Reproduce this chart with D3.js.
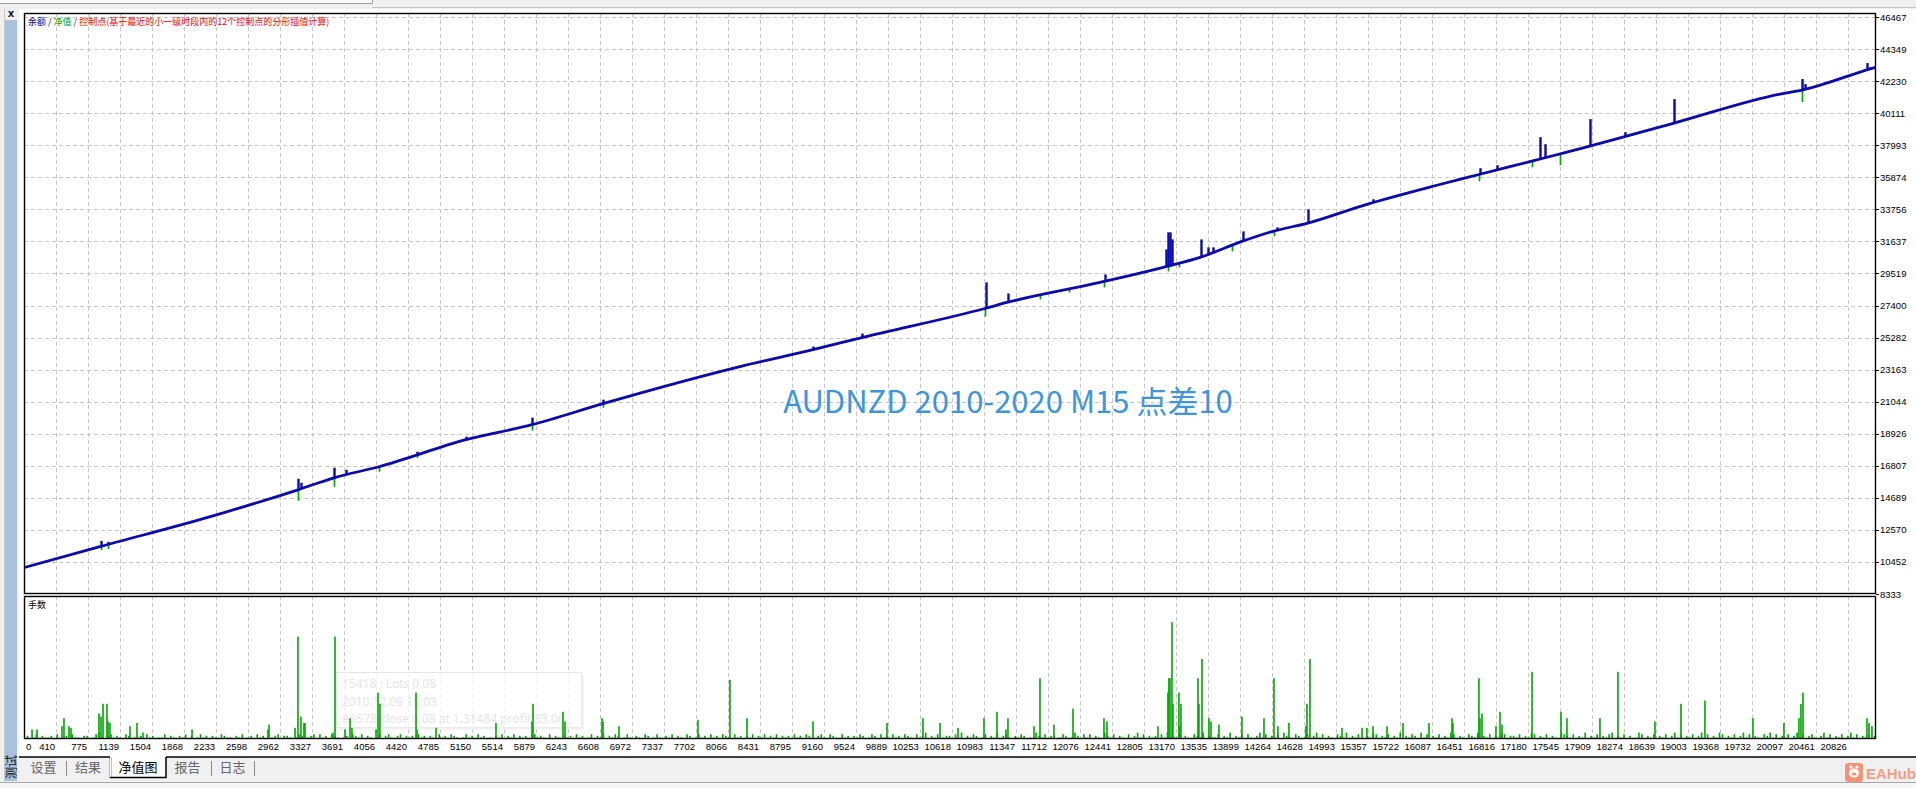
<!DOCTYPE html>
<html><head><meta charset="utf-8">
<script src="https://cdn.jsdelivr.net/npm/d3@7"></script>
<style>body{margin:0;background:#f0f0f0;overflow:hidden}svg{display:block}</style>
</head><body><svg id="c" width="1916" height="788"></svg>
<script>
// ---------------- data ----------------
const tradeTicks=[0,410,775,1139,1504,1868,2233,2598,2962,3327,3691,4056,4420,4785,5150,5514,5879,6243,6608,6972,7337,7702,8066,8431,8795,9160,9524,9889,10253,10618,10983,11347,11712,12076,12441,12805,13170,13535,13899,14264,14628,14993,15357,15722,16087,16451,16816,17180,17545,17909,18274,18639,19003,19368,19732,20097,20461,20826];
const equityTicks=[8333,10452,12570,14689,16807,18926,21044,23163,25282,27400,29519,31637,33756,35874,37993,40111,42230,44349,46467];

// balance curve (trade number -> balance)
const balanceTrade=[0,900,2199,3167,3577,4090,5081,5833,6642,8203,9035,9593,10994,11245,12305,13068,13444,13922,14275,14663,15346,16098,16634,17237,17625,18844,20052,20302,21111,21146];
const balanceValue=[10000,11445,13497,15219,16013,16742,18529,19522,20913,23363,24488,25283,27203,27600,28924,29984,30580,31639,32301,32831,34089,35281,36075,36960,37532,39452,41372,41637,43093,43150];

// balance upward excursions (trade, peak balance)
const balanceSpikeTrade=[923,1003,3167,3201,3577,3714,4523,5081,5833,6642,9035,9593,11006,11256,12361,13056,13079,13102,13125,13455,13535,13592,13934,14321,14674,15415,16087,16634,16828,17318,17374,17887,18286,18844,20302,20336,21043,21077];
const balanceSpikeValue=[11842,11776,15947,15682,16675,16543,17735,18728,19986,21178,24687,25548,28925,28196,29454,31109,32235,32235,31771,31771,31242,31242,32301,32566,33758,34420,35347,36472,36671,38525,38060,39717,38855,41041,42366,42034,43424,43158];

// equity drawdown dips (trade, lowest equity)
const equitySpikeTrade=[923,1003,3167,3577,4090,4523,5833,6642,10994,11621,11951,12350,13079,13205,13808,14287,16622,17226,17545,20302];
const equitySpikeValue=[11246,11312,14491,15418,16411,17338,19125,20648,26673,27799,28262,28593,29652,29917,30976,31969,35611,36538,36671,40842];

// lots: notable bars (trade, lots)
const lotSpikeTrade=[137,194,478,501,558,581,900,923,946,991,1003,1025,1253,1333,1401,1960,2825,2837,3133,3167,3201,3235,3247,3566,3589,3703,3760,3782,4056,4079,4101,4512,4523,4740,5423,5833,5845,6186,6209,6631,6642,6824,7724,8089,8283,9035,9878,10288,10482,10687,10983,11131,11233,11256,11553,11621,11780,11997,12350,12384,12965,13079,13090,13102,13125,13136,13204,13216,13227,13421,13432,13467,13546,13569,13660,13922,14173,14287,14332,14457,14651,14663,14697,15062,15290,15346,15415,15574,15757,16053,16315,16326,16622,16634,16657,16816,16862,16885,17227,17557,17625,18001,18206,18628,18924,19197,19744,20097,20268,20291,20314,21043,21066,21100];
const lotSpikeValue=[0.06,0.06,0.08,0.13,0.08,0.07,0.16,0.14,0.22,0.22,0.11,0.10,0.08,0.10,0.04,0.06,0.06,0.09,0.07,0.64,0.14,0.10,0.10,0.04,0.64,0.06,0.13,0.07,0.06,0.29,0.22,0.29,0.06,0.07,0.10,0.11,0.22,0.17,0.11,0.13,0.11,0.08,0.12,0.37,0.13,0.11,0.10,0.13,0.10,0.07,0.13,0.17,0.06,0.13,0.08,0.38,0.09,0.19,0.13,0.11,0.08,0.29,0.38,0.38,0.73,0.22,0.29,0.08,0.22,0.38,0.22,0.50,0.13,0.11,0.09,0.14,0.13,0.38,0.08,0.10,0.08,0.22,0.50,0.07,0.07,0.07,0.08,0.08,0.10,0.10,0.13,0.10,0.38,0.13,0.16,0.08,0.17,0.09,0.42,0.17,0.13,0.13,0.42,0.11,0.22,0.24,0.13,0.10,0.13,0.22,0.29,0.13,0.10,0.08];

// lots: background bars, one digit (hundredths of a lot) per bin of trades
const lotBinSize=34;
const lotBinLevels=
 "10201302112030120311022013410231210320112031201130"+
 "21021302013120210321102130120312001230221013201230"+
 "31203210120321302101302310230212031202103120321013"+
 "12031201021302130212023121030210312031201302130213"+
 "20131021032013102130210320131203120321031202130213"+
 "02130212031203210231032103120213201320312031203210"+
 "31240213012203140213201302140231021320104213022013"+
 "20142031302104213021030241302120314021302103214021"+
 "13021402130310241302130421032013024130210321402130"+
 "02143021302140213204130213021430210321402130214302"+
 "21302143021302104321302140213021340213020143021302"+
 "13024130213024130214302130241302103241302130241302"+
 "3102413021302413021302413021";

const legendTexts=["余额"," / ","净值"," / ","控制点(基于最近的小一级时段内的12个控制点的分形插值计算)"];
const lotsTitle="手数";
const watermark="AUDNZD 2010-2020 M15 点差10";
const tooltipLines=["15418 : Lots 0.08","2010.12.09 19:03","#3578 close 0.08 at 1.31484 profit 33.06"];
const tabLabels=["设置","结果","净值图","报告","日志"];
const sideTitle="测试";

// ---------------- drawing ----------------
const svg=d3.select("#c");
const X0=24,X1=1876,MT=13,MB=594,LT=596,LB=739;
const x=d3.scaleLinear().domain([0,21146]).range([20,1876]);
const y=d3.scaleLinear().domain([8333,46467]).range([594,17]);
const yl=d3.scaleLinear().domain([0,0.8]).range([739,611]);
const px=v=>Math.round(v)+0.5;

// window chrome
svg.append("rect").attr("width",1916).attr("height",788).attr("fill","#f0f0f0");
svg.append("rect").attr("x",0).attr("y",0).attr("width",372).attr("height",3).attr("fill","#fafafa");
svg.append("line").attr("x1",0).attr("x2",372).attr("y1",3.5).attr("y2",3.5).attr("stroke","#9c9c9c");
svg.append("line").attr("x1",372.5).attr("x2",372.5).attr("y1",0).attr("y2",3.5).attr("stroke","#9c9c9c");
svg.append("line").attr("x1",372).attr("x2",1916).attr("y1",7.5).attr("y2",7.5).attr("stroke","#c4c4c4");
svg.append("rect").attr("x",19).attr("y",9).attr("width",1897).attr("height",748).attr("fill","#fff");
svg.append("rect").attr("x",5).attr("y",20).attr("width",12).attr("height",761).attr("fill","#a9c1dd");
svg.append("line").attr("x1",4.5).attr("x2",4.5).attr("y1",9).attr("y2",783).attr("stroke","#c8c8c8");
svg.append("text").attr("x",11).attr("y",17).attr("text-anchor","middle")
  .attr("font-family","Liberation Sans").attr("font-weight","bold").attr("font-size",11).attr("fill","#000").text("x");
svg.append("text").attr("transform","translate(15.5,767) rotate(-90)").attr("text-anchor","middle")
  .attr("font-family","Noto Sans CJK SC").attr("font-size",12).attr("fill","#111").text(sideTitle);

// clip
const defs=svg.append("defs");
defs.append("clipPath").attr("id","cm").append("rect").attr("x",X0).attr("y",MT).attr("width",X1-X0).attr("height",MB-MT);
defs.append("clipPath").attr("id","cl").append("rect").attr("x",X0).attr("y",LT).attr("width",X1-X0).attr("height",LB-LT);

// grid
const grid=svg.append("g").attr("stroke","#c6c6c6").attr("stroke-dasharray","4,3").attr("stroke-width",1);
equityTicks.filter(t=>t!==8333).forEach(t=>{
  grid.append("line").attr("x1",X0).attr("x2",X1).attr("y1",px(y(t))).attr("y2",px(y(t)));
});
tradeTicks.filter(t=>t>0).forEach(t=>{
  const xx=px(x(t));
  grid.append("line").attr("x1",xx).attr("x2",xx).attr("y1",MT).attr("y2",MB);
  grid.append("line").attr("x1",xx).attr("x2",xx).attr("y1",LT).attr("y2",LB);
});

// watermark
svg.append("text").attr("x",1008).attr("y",413).attr("text-anchor","middle")
  .attr("font-family","Noto Sans CJK SC").attr("font-size",31).attr("fill","#3d95e0").text(watermark);

// main series
const main=svg.append("g").attr("clip-path","url(#cm)");
function baseAt(t){
  const i=d3.bisectLeft(balanceTrade,t);
  if(i<=0) return balanceValue[0];
  if(i>=balanceTrade.length) return balanceValue[balanceValue.length-1];
  const a=balanceTrade[i-1],b=balanceTrade[i];
  return balanceValue[i-1]+(t-a)/(b-a)*(balanceValue[i]-balanceValue[i-1]);
}
equitySpikeTrade.forEach((t,i)=>{
  main.append("path").attr("d",`M${px(x(t))},${y(baseAt(t))}V${y(equitySpikeValue[i])}`)
    .attr("stroke","#00a800").attr("stroke-width",1.7).attr("fill","none");
});
const pts=balanceTrade.map((t,i)=>[t,balanceValue[i]]);
main.append("path").attr("d",d3.line().curve(d3.curveMonotoneX).x(d=>x(d[0])).y(d=>y(d[1]))(pts))
  .attr("fill","none").attr("stroke","#0a0aae").attr("stroke-width",2.8);
balanceSpikeTrade.forEach((t,i)=>{
  main.append("path").attr("d",`M${px(x(t))},${y(baseAt(t))}V${y(balanceSpikeValue[i])}`)
    .attr("stroke","#0a0aae").attr("stroke-width",2.4).attr("fill","none");
});

// tooltip ghost
svg.append("rect").attr("x",336.5).attr("y",672.5).attr("width",245).attr("height",55)
  .attr("fill","#fff").attr("fill-opacity",0.75).attr("stroke","#e6e6e6");
svg.append("line").attr("x1",582.5).attr("x2",582.5).attr("y1",675).attr("y2",729).attr("stroke","#f0f0f0").attr("stroke-width",2);
svg.append("line").attr("x1",340).attr("x2",583).attr("y1",728.5).attr("y2",728.5).attr("stroke","#f0f0f0").attr("stroke-width",2);
tooltipLines.forEach((s,i)=>{
  svg.append("text").attr("x",342).attr("y",688+i*17.5).attr("font-family","Open Sans").attr("font-size",12)
    .attr("fill","#e4e4e4").text(s);
});

// lots bars
const lots=svg.append("g").attr("clip-path","url(#cl)");
const bars=[];
for(let i=0;i<lotBinLevels.length;i++){const d=+lotBinLevels[i]; if(d>0) bars.push([i*lotBinSize+lotBinSize/2,d/100]);}
lotSpikeTrade.forEach((t,i)=>bars.push([t,lotSpikeValue[i]]));
lots.selectAll("rect.b").data(bars).join("rect").attr("class","b")
  .attr("x",d=>x(d[0])-0.8).attr("width",1.6)
  .attr("y",d=>yl(d[1])).attr("height",d=>yl(0)-yl(d[1])).attr("fill","#00a800");

// panel borders
svg.append("rect").attr("x",X0+0.5).attr("y",MT+0.5).attr("width",X1-X0-1).attr("height",MB-MT-1)
  .attr("fill","none").attr("stroke","#000").attr("stroke-width",1.4);
svg.append("rect").attr("x",X0+0.5).attr("y",LT+0.5).attr("width",X1-X0-1).attr("height",LB-LT-1)
  .attr("fill","none").attr("stroke","#000").attr("stroke-width",1.4);

// right axis
equityTicks.forEach(t=>{
  const yy=y(t);
  svg.append("line").attr("x1",X1).attr("x2",X1+3).attr("y1",px(yy)).attr("y2",px(yy)).attr("stroke","#000");
  svg.append("text").attr("x",X1+4).attr("y",yy+3.5).attr("font-family","Liberation Sans").attr("font-size",9.5)
    .attr("fill","#000").text(t);
});
// bottom axis
tradeTicks.forEach(t=>{
  const tx=svg.append("text").attr("y",750).attr("font-family","Liberation Sans").attr("font-size",9.5).attr("fill","#000").text(t);
  if(t===0) tx.attr("x",X0+2).attr("text-anchor","start");
  else tx.attr("x",x(t)-1).attr("text-anchor","end");
});

// legend
const legendColors=["#0000a8","#101060","#00a000","#900000","#ff0000"];
const lg=svg.append("text").attr("x",28).attr("y",25).attr("font-family","Noto Sans CJK SC").attr("font-size",9).attr("xml:space","preserve");
legendTexts.forEach((s,i)=>lg.append("tspan").attr("fill",legendColors[i]).text(s));
svg.append("text").attr("x",28).attr("y",608).attr("font-family","Noto Sans CJK SC").attr("font-size",9).attr("fill","#000").text(lotsTitle);

// tabs
svg.append("rect").attr("x",19).attr("y",757).attr("width",1897).attr("height",26).attr("fill","#f0f0f0");
svg.append("line").attr("x1",19).attr("x2",110).attr("y1",757).attr("y2",757).attr("stroke","#000").attr("stroke-width",1.5);
svg.append("line").attr("x1",166).attr("x2",1916).attr("y1",757).attr("y2",757).attr("stroke","#000").attr("stroke-width",1.5);
svg.append("rect").attr("x",110).attr("y",756).attr("width",56).attr("height",21).attr("fill","#fff");
svg.append("path").attr("d","M110.5,757V777.5H166V757").attr("fill","none").attr("stroke","#000").attr("stroke-width",1.5);
svg.append("line").attr("x1",110.5).attr("x2",110.5).attr("y1",757).attr("y2",777).attr("stroke","#fff");
[66,211,254].forEach(sx=>svg.append("line").attr("x1",sx+0.5).attr("x2",sx+0.5).attr("y1",761).attr("y2",776).attr("stroke","#8a8a8a"));
const tabCenters=[43.5,88,138,187.5,232.5];
tabLabels.forEach((s,i)=>{
  svg.append("text").attr("x",tabCenters[i]).attr("y",772).attr("text-anchor","middle")
    .attr("font-family","Noto Sans CJK SC").attr("font-size",13).attr("fill",i===2?"#000":"#666").text(s);
});
svg.append("line").attr("x1",0).attr("x2",1916).attr("y1",782.5).attr("y2",782.5).attr("stroke","#a8a8a8");
svg.append("rect").attr("x",0).attr("y",783).attr("width",1916).attr("height",5).attr("fill","#f6f6f6");

// logo
const lgo=svg.append("g").attr("opacity",0.8);
lgo.append("rect").attr("x",1845).attr("y",763).attr("width",18).attr("height",19).attr("rx",3).attr("fill","#f47e5c");
lgo.append("ellipse").attr("cx",1854).attr("cy",773).attr("rx",5).attr("ry",4.5).attr("fill","#fff");
lgo.append("circle").attr("cx",1851).attr("cy",767).attr("r",1.6).attr("fill","#fff");
lgo.append("circle").attr("cx",1857).attr("cy",767).attr("r",1.6).attr("fill","#fff");
lgo.append("ellipse").attr("cx",1854).attr("cy",774).attr("rx",2.5).attr("ry",1.6).attr("fill","#f47e5c");
lgo.append("text").attr("x",1866).attr("y",779).attr("font-family","Liberation Sans Narrow, Liberation Sans").attr("font-weight","bold")
  .attr("font-size",15).attr("fill","#f48c6c").text("EAHub");
</script></body></html>
